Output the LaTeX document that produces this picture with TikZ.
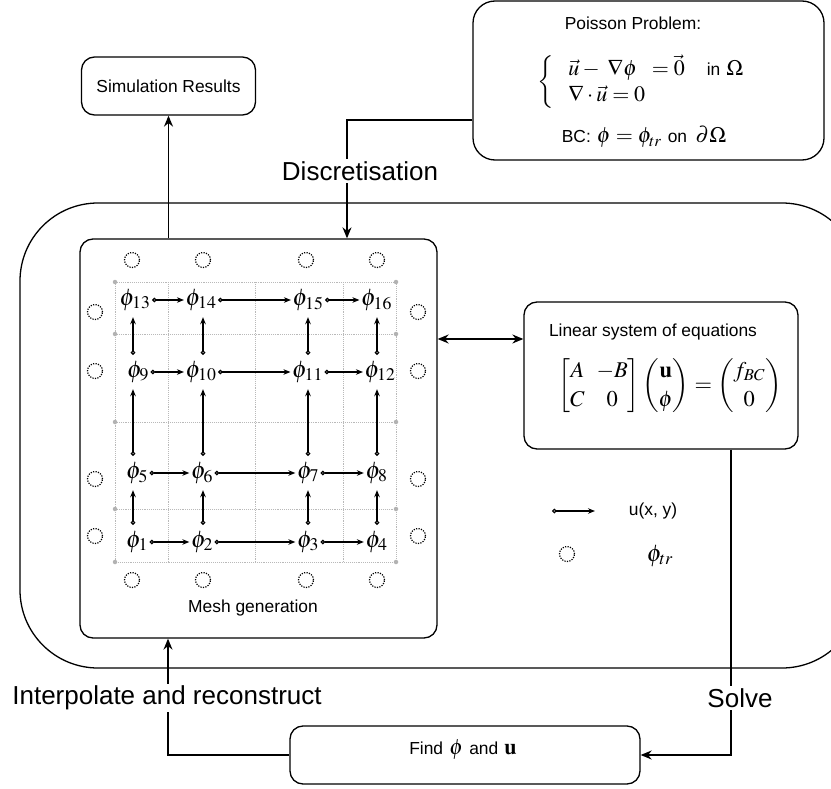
\documentclass[tikz,border=0pt]{standalone}
\usepackage{amsmath}
\usepackage{mathptmx}
\usepackage[no-math]{fontspec}
\setmainfont{Liberation Sans}
\usetikzlibrary{arrows.meta}
\tikzset{
  box/.style={draw, rounded corners=13pt, line width=1.3pt, inner sep=0pt},
  lbl/.style={font=\fontsize{17.4}{20}\selectfont, inner sep=1pt},
  big/.style={font=\fontsize{26}{30}\selectfont, fill=white, inner sep=2pt},
  mth/.style={font=\fontsize{22}{26}\selectfont, inner sep=1pt},
  phinode/.style={font=\fontsize{24}{28}\selectfont, inner xsep=1.5pt, inner ysep=0pt, minimum height=34pt},
  flow/.style={-{Stealth[length=11pt, width=9pt]}, line width=1.4pt},
  marrow/.style={{Circle[open, length=4.5pt, width=4.5pt]}-{Stealth[length=7pt, width=5.5pt]}, line width=1.2pt},
  bc/.style={draw, dash pattern=on 1.2pt off 1.3pt, circle, minimum size=15pt, inner sep=0pt, line width=1.2pt},
  gridl/.style={draw=gray!55, densely dotted, line width=0.9pt},
  gdot/.style={fill=gray!60, circle, inner sep=0pt, minimum size=4.5pt},
}
\begin{document}
\begin{tikzpicture}[x=1pt, y=-1pt]
\useasboundingbox (0,0) rectangle (831,789);
\clip (0,0) rectangle (831,789);

% outer rounded region
\draw[line width=1.3pt, rounded corners=78pt] (20,203) rectangle (860,668);

% boxes
\node[box, minimum width=174pt, minimum height=58pt] (sim) at (168.5,86) {};
\node[lbl] (simt) at (168.5,86) {Simulation Results};

\node[box, rounded corners=22pt, minimum width=351pt, minimum height=159pt] (poisson) at (648.5,80.5) {};
\node[lbl] (pt1) at (633,23) {Poisson Problem:};
\node[mth, anchor=west] (pt2) at (536,82) {$\left\{\begin{array}{l} \;\;\vec{u} -\; \nabla\phi\;\; = \vec{0} \quad \text{\fontsize{17.4}{20}\selectfont in}\ \Omega\\ \;\;\nabla\cdot\vec{u} = 0\end{array}\right.$};
\node[mth] (pt3) at (644,137) {{\fontsize{17.4}{20}\selectfont BC:} $\phi = \phi_{tr}$ {\fontsize{17.4}{20}\selectfont on} $\,\partial\Omega$};

\node[box, minimum width=357pt, minimum height=399pt] (mesh) at (258.5,438.5) {};
\node[lbl] (mesht) at (253,608) {Mesh generation};

\node[box, minimum width=274pt, minimum height=147pt] (lin) at (661,375.5) {};
\node[lbl] (lint) at (653,332) {Linear system of equations};
\node[font=\fontsize{22.5}{29}\selectfont, inner sep=1pt] (linm) at (670,386) {$\setlength{\arraycolsep}{6pt}\begin{bmatrix} A & -B\\ C & 0\end{bmatrix}\begin{pmatrix}\mathbf{u}\\ \phi\end{pmatrix} = \begin{pmatrix} f_{BC}\\ 0\end{pmatrix}$};

\node[box, minimum width=350pt, minimum height=58pt] (find) at (465,755) {};
\node[mth] (findt) at (463,750) {{\fontsize{17.4}{20}\selectfont Find} $\phi$ {\fontsize{17.4}{20}\selectfont and} $\mathbf{u}$};

% grid
\draw[gridl] (115,282) rectangle (396,562);
\foreach \gx in {168,255,343} \draw[gridl] (\gx,282) -- (\gx,562);
\foreach \gy in {334,422,509} \draw[gridl] (115,\gy) -- (396,\gy);
\foreach \gy in {282,334,422,509,562} {
  \node[gdot] at (115,\gy) {};
  \node[gdot] at (396,\gy) {};
}

% phi nodes
\node[phinode] (p13) at (135,300) {$\phi_{13}$};
\node[phinode] (p14) at (201,300) {$\phi_{14}$};
\node[phinode] (p15) at (308,300) {$\phi_{15}$};
\node[phinode] (p16) at (376.5,300) {$\phi_{16}$};
\node[phinode] (p9) at (138,372) {$\phi_{9}$};
\node[phinode] (p10) at (201,372) {$\phi_{10}$};
\node[phinode] (p11) at (307.5,372) {$\phi_{11}$};
\node[phinode] (p12) at (380,372) {$\phi_{12}$};
\node[phinode] (p5) at (137,473) {$\phi_{5}$};
\node[phinode] (p6) at (202,473) {$\phi_{6}$};
\node[phinode] (p7) at (308,473) {$\phi_{7}$};
\node[phinode] (p8) at (376.5,473) {$\phi_{8}$};
\node[phinode] (p1) at (137,542) {$\phi_{1}$};
\node[phinode] (p2) at (202,542) {$\phi_{2}$};
\node[phinode] (p3) at (308,542) {$\phi_{3}$};
\node[phinode] (p4) at (376.5,542) {$\phi_{4}$};

\coordinate (c1) at (133,0);
\coordinate (c2) at (203,0);
\coordinate (c3) at (308,0);
\coordinate (c4) at (377,0);

% horizontal mesh arrows
\foreach \a/\b in {13/14,14/15,15/16,9/10,10/11,11/12,5/6,6/7,7/8,1/2,2/3,3/4}
  \draw[marrow] (p\a.east) -- (p\b.west);
% vertical mesh arrows
\foreach \a/\b/\c in {1/5/c1,2/6/c2,3/7/c3,4/8/c4,5/9/c1,6/10/c2,7/11/c3,8/12/c4,9/13/c1,10/14/c2,11/15/c3,12/16/c4}
  \draw[marrow] (p\a.north -| \c) -- (p\b.south -| \c);

% boundary circles
\foreach \i/\bx in {1/132,2/203,3/306,4/377} {
  \node[bc] (bt\i) at (\bx,260) {};
  \node[bc] (bb\i) at (\bx,580) {};
}
\foreach \i/\by in {1/312,2/371,3/479,4/536} {
  \node[bc] (bl\i) at (95,\by) {};
  \node[bc] (br\i) at (418,\by) {};
}

% legend
\coordinate (la) at (552,511);
\coordinate (lb) at (595,511);
\draw[marrow] (la) -- (lb);
\node[lbl] (lu) at (653,511) {u(x, y)};
\node[bc] (lc) at (567,554) {};
\node[phinode, minimum height=0pt] (lphi) at (660,556) {$\phi_{tr}$};

% connectors
\draw[flow] (sim.south |- mesh.north) -- (sim.south);
\coordinate (dtop) at (347,120);
\draw[flow] (poisson.west |- dtop) -- (dtop) -- (dtop |- mesh.north);
\node[big] (disc) at (360,171) {Discretisation};

\coordinate (yc) at (0,339);
\draw[{Stealth[length=11pt, width=9pt]}-{Stealth[length=11pt, width=9pt]}, line width=1.4pt] (mesh.east |- yc) -- (lin.west |- yc);

\coordinate (sc) at (731,755);
\draw[flow] (sc |- lin.south) -- (sc) -- (find.east);
\node[big] (solve) at (740,698) {Solve};

\coordinate (ic) at (168,755);
\draw[flow] (find.west) -- (ic) -- (ic |- mesh.south);
\node[big] (interp) at (167,698) {Interpolate and reconstruct};
\end{tikzpicture}
\end{document}
